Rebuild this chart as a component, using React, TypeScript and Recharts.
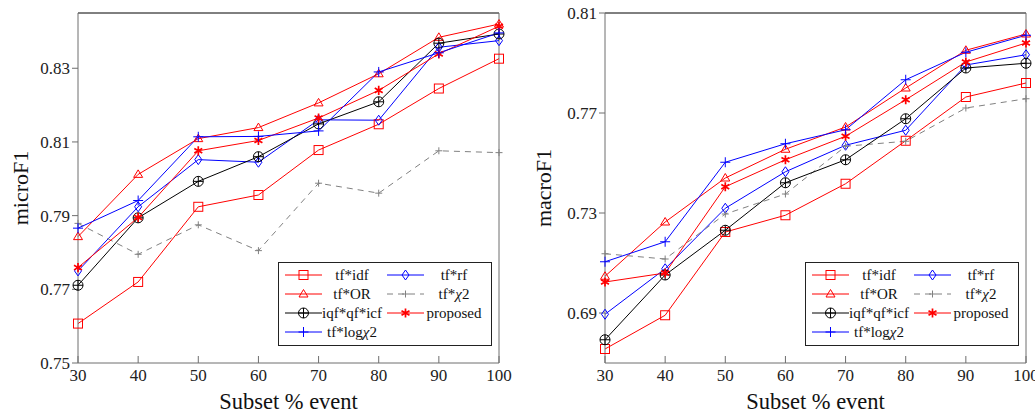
import React from 'react';
import { LineChart, Line, XAxis, YAxis, Legend, ReferenceLine } from 'recharts';

const subsets = [30, 40, 50, 60, 70, 80, 90, 100];

// microF1 (left panel)
const microTfIdf = [0.7607, 0.772, 0.7924, 0.7956, 0.8078, 0.8148, 0.8245, 0.8326];
const microTfRf = [0.775, 0.7924, 0.8052, 0.8045, 0.816, 0.8159, 0.8357, 0.8375];
const microTfOr = [0.7843, 0.8012, 0.8109, 0.8139, 0.8206, 0.8285, 0.8384, 0.842];
const microTfChi = [0.7879, 0.7795, 0.7875, 0.7805, 0.7988, 0.7961, 0.8076, 0.8071];
const microIqf = [0.7711, 0.7894, 0.7993, 0.806, 0.8149, 0.8209, 0.8368, 0.8393];
const microProposed = [0.7759, 0.7895, 0.8076, 0.8104, 0.8165, 0.824, 0.8339, 0.8414];
const microTfLogChi = [0.7866, 0.7941, 0.8114, 0.8115, 0.813, 0.829, 0.8342, 0.8396];

// macroF1 (right panel)
const macroTfIdf = [0.6756, 0.6891, 0.7224, 0.7291, 0.7417, 0.7589, 0.7764, 0.782];
const macroTfRf = [0.6895, 0.7077, 0.7319, 0.7465, 0.7571, 0.7631, 0.7892, 0.7933];
const macroTfOr = [0.7047, 0.7264, 0.744, 0.7555, 0.7644, 0.78, 0.7951, 0.8016];
const macroTfChi = [0.7137, 0.7116, 0.7296, 0.7376, 0.7567, 0.7587, 0.772, 0.7757];
const macroIqf = [0.6793, 0.7052, 0.7231, 0.7421, 0.7513, 0.7677, 0.788, 0.7899];
const macroProposed = [0.7024, 0.706, 0.7405, 0.7513, 0.7607, 0.7753, 0.7904, 0.798];
const macroTfLogChi = [0.7105, 0.7185, 0.7503, 0.7577, 0.7633, 0.7833, 0.7943, 0.8011];

const microTicks = [0.75, 0.77, 0.79, 0.81, 0.83];
const macroTicks = [0.69, 0.73, 0.77, 0.81];

const FONT = 'Liberation Serif, DejaVu Serif, Times New Roman, serif';
const RED = '#ff0000';
const BLUE = '#0000ff';
const GRAY = '#808080';
const AXIS = '#6e6e6e';

type Shape = 'square' | 'triangle' | 'oplus' | 'diamond' | 'plus' | 'tick' | 'asterisk';

const series: { key: string; name: string; color: string; shape: Shape; dash?: string }[] = [
  { key: 'tfidf', name: 'tf*idf', color: RED, shape: 'square' },
  { key: 'tfrf', name: 'tf*rf', color: BLUE, shape: 'diamond' },
  { key: 'tfor', name: 'tf*OR', color: RED, shape: 'triangle' },
  { key: 'tfchi', name: 'tf*χ2', color: GRAY, shape: 'tick', dash: '6 5' },
  { key: 'iqf', name: 'iqf*qf*icf', color: '#000000', shape: 'oplus' },
  { key: 'proposed', name: 'proposed', color: RED, shape: 'asterisk' },
  { key: 'tflogchi', name: 'tf*logχ2', color: BLUE, shape: 'plus' },
];

const buildRows = (cols: Record<string, number[]>) =>
  subsets.map((s, i) => {
    const row: Record<string, number> = { subset: s };
    Object.keys(cols).forEach(k => {
      row[k] = cols[k][i];
    });
    return row;
  });

const microRows = buildRows({
  tfidf: microTfIdf,
  tfrf: microTfRf,
  tfor: microTfOr,
  tfchi: microTfChi,
  iqf: microIqf,
  proposed: microProposed,
  tflogchi: microTfLogChi,
});

const macroRows = buildRows({
  tfidf: macroTfIdf,
  tfrf: macroTfRf,
  tfor: macroTfOr,
  tfchi: macroTfChi,
  iqf: macroIqf,
  proposed: macroProposed,
  tflogchi: macroTfLogChi,
});

function Marker({ shape, cx, cy, color }: { shape: Shape; cx: number; cy: number; color: string }) {
  const common = { stroke: color, strokeWidth: 1, fill: 'none' };
  switch (shape) {
    case 'square':
      return <rect x={cx - 4.5} y={cy - 4.5} width={9} height={9} {...common} />;
    case 'triangle':
      return <path d={`M${cx},${cy - 4.5}L${cx + 4.5},${cy + 3}L${cx - 4.5},${cy + 3}Z`} {...common} />;
    case 'diamond':
      return <path d={`M${cx},${cy - 5}L${cx + 3.5},${cy}L${cx},${cy + 5}L${cx - 3.5},${cy}Z`} {...common} />;
    case 'oplus':
      return (
        <g {...common}>
          <circle cx={cx} cy={cy} r={5} />
          <path d={`M${cx - 5},${cy}H${cx + 5}M${cx},${cy - 5}V${cy + 5}`} />
        </g>
      );
    case 'plus':
      return <path d={`M${cx - 5},${cy}H${cx + 5}M${cx},${cy - 5}V${cy + 5}`} {...common} />;
    case 'tick':
      return <path d={`M${cx - 3.5},${cy}H${cx + 3.5}M${cx},${cy - 3.5}V${cy + 3.5}`} {...common} />;
    case 'asterisk': {
      const r = 4.6;
      const arms = [90, 30, 150].map(a => {
        const rad = (a * Math.PI) / 180;
        const dx = r * Math.cos(rad);
        const dy = r * Math.sin(rad);
        return `M${cx - dx},${cy - dy}L${cx + dx},${cy + dy}`;
      });
      return <path d={arms.join('')} stroke={color} strokeWidth={1.7} fill="none" />;
    }
    default:
      return null;
  }
}

const dotFor = (shape: Shape, color: string) => (props: any) => (
  <Marker key={`${shape}-${props.index}`} shape={shape} cx={props.cx} cy={props.cy} color={color} />
);

function SeriesName({ name, x, y }: { name: string; x: number; y: number }) {
  const parts = name.split('χ');
  return (
    <text x={x} y={y} textAnchor="middle" dominantBaseline="central" style={{ fontFamily: FONT, fontSize: 15 }} fill="#111">
      {parts[0]}
      {parts.length > 1 && <tspan fontStyle="italic">χ</tspan>}
      {parts.length > 1 && parts[1]}
    </text>
  );
}

function LegendBox() {
  return (
    <svg width={214} height={84} style={{ display: 'block' }}>
      <rect x={0.5} y={0.5} width={213} height={83} fill="#fff" stroke="#222" strokeWidth={1} />
      {series.map((s, i) => {
        const col = i % 2;
        const row = Math.floor(i / 2);
        const cy = 13 + row * 19;
        const lx = col === 0 ? 7 : 109;
        const mx = lx + 18.5;
        const tx = col === 0 ? 74 : 176;
        return (
          <g key={s.key}>
            <line x1={lx} x2={lx + 37} y1={cy} y2={cy} stroke={s.color} strokeWidth={1} strokeDasharray={s.dash} />
            <Marker shape={s.shape} cx={mx} cy={cy} color={s.color} />
            <SeriesName name={s.name} x={tx} y={cy} />
          </g>
        );
      })}
    </svg>
  );
}

const xTitle = (props: any) => {
  const vb = props.viewBox;
  return (
    <text x={vb.x + vb.width / 2} y={vb.y + 38} textAnchor="middle" dominantBaseline="central" style={{ fontFamily: FONT, fontSize: 22.5 }} fill="#111">
      Subset % event
    </text>
  );
};

const yTitle = (text: string, dx: number) => (props: any) => {
  const vb = props.viewBox;
  const x = vb.x + dx;
  const y = vb.y + vb.height / 2;
  return (
    <text x={x} y={y} transform={`rotate(-90, ${x}, ${y})`} textAnchor="middle" dominantBaseline="central" style={{ fontFamily: FONT, fontSize: 22 }} fill="#111">
      {text}
    </text>
  );
};

interface PanelProps {
  rows: Record<string, number>[];
  width: number;
  yAxisWidth: number;
  rightMargin: number;
  domain: [number, number];
  ticks: number[];
  title: string;
  titleDx: number;
  legendLeft: number;
}

function Panel({ rows, width, yAxisWidth, rightMargin, domain, ticks, title, titleDx, legendLeft }: PanelProps) {
  const tickStyle = { fontSize: 17, fill: '#222', style: { fontFamily: FONT } };
  return (
    <LineChart width={width} height={417} data={rows} margin={{ top: 13, right: rightMargin, bottom: 0, left: 0 }} style={{ fontFamily: FONT }}>
      <XAxis
        dataKey="subset"
        type="number"
        domain={[30, 100]}
        ticks={subsets}
        interval={0}
        height={54}
        tickSize={-7}
        tickMargin={13}
        axisLine={{ stroke: AXIS }}
        tickLine={{ stroke: AXIS }}
        tick={tickStyle}
        label={xTitle}
      />
      <YAxis
        type="number"
        domain={domain}
        ticks={ticks}
        interval={0}
        width={yAxisWidth}
        tickSize={6}
        tickMargin={2}
        allowDataOverflow
        axisLine={{ stroke: AXIS }}
        tickLine={{ stroke: AXIS }}
        tick={tickStyle}
        tickFormatter={(v: number) => v.toFixed(2)}
        label={yTitle(title, titleDx)}
      />
      <ReferenceLine y={domain[1]} stroke="#000" strokeWidth={1} />
      <ReferenceLine x={100} stroke={AXIS} strokeWidth={1} />
      {series.map(s => (
        <Line
          key={s.key}
          type="linear"
          dataKey={s.key}
          name={s.name}
          stroke={s.color}
          strokeWidth={1}
          strokeDasharray={s.dash}
          dot={dotFor(s.shape, s.color)}
          activeDot={false}
          isAnimationActive={false}
        />
      ))}
      <Legend
        layout="vertical"
        align="center"
        verticalAlign="middle"
        content={() => <LegendBox />}
        wrapperStyle={{ left: legendLeft, top: 262, width: 214, height: 84 }}
      />
    </LineChart>
  );
}

export default function App() {
  return (
    <div style={{ position: 'absolute', left: 0, top: 0, width: 1035, height: 417, background: '#fff', fontFamily: FONT }}>
      <div style={{ position: 'absolute', left: 0, top: 0 }}>
        <Panel
          rows={microRows}
          width={520}
          yAxisWidth={78}
          rightMargin={21}
          domain={[0.75, 0.845]}
          ticks={microTicks}
          title="microF1"
          titleDx={20}
          legendLeft={278}
        />
      </div>
      <div style={{ position: 'absolute', left: 520, top: 0 }}>
        <Panel
          rows={macroRows}
          width={515}
          yAxisWidth={85}
          rightMargin={9}
          domain={[0.67, 0.81]}
          ticks={macroTicks}
          title="macroF1"
          titleDx={23}
          legendLeft={285}
        />
      </div>
    </div>
  );
}
